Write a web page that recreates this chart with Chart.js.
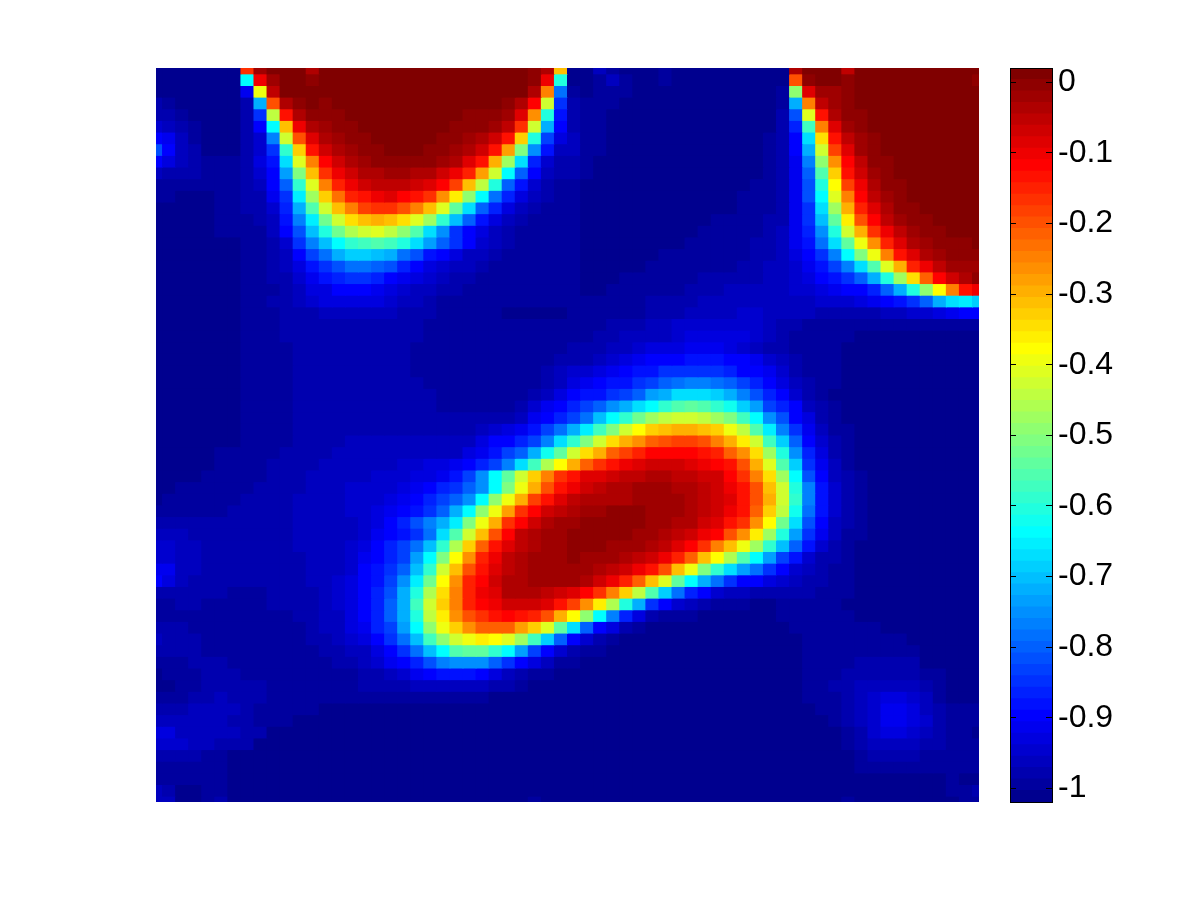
<!DOCTYPE html>
<html>
<head>
<meta charset="utf-8">
<title>Heatmap</title>
<script src="https://cdn.jsdelivr.net/npm/chart.js@4"></script>
<style>
html,body{margin:0;padding:0;background:#fff;width:1200px;height:900px;overflow:hidden}
canvas{position:absolute;display:block}
</style>
</head>
<body>
<canvas id="plot" width="823" height="734" style="left:156px;top:68px;width:823px;height:734px"></canvas>
<canvas id="bar" width="180" height="750" style="left:1000px;top:60px;width:180px;height:750px"></canvas>
<script>
const colorLimits = [-1.0194, 0.0203];
const colorbarTicks = [0,-0.1,-0.2,-0.3,-0.4,-0.5,-0.6,-0.7,-0.8,-0.9,-1];
// colour level (0-63) of every cell, row by row from the top
const heatLevels = [
[0,0,0,0,0,0,0,52, 61,63,63,63,60,63,63,63, 63,63,63,63,63,63,63,63, 63,63,63,63,63,62,60,43, 0,0,3,1,0,0,0,1, 0,0,0,0,0,0,0,0, 0,60,63,63,63,59,63,63, 63,63,63,63,63,63,63,63],
[0,0,0,0,0,0,0,23, 56,61,63,63,62,63,63,63, 63,63,63,63,63,63,63,63, 63,63,63,63,63,62,56,25, 0,0,1,3,1,0,0,1, 0,0,0,0,0,0,0,0, 0,50,62,63,63,62,63,63, 63,63,63,63,63,63,63,62],
[0,0,0,0,0,0,0,6, 38,59,63,63,63,63,63,63, 63,63,63,63,63,63,63,63, 63,63,63,63,63,60,47,14, 1,0,1,1,1,0,0,0, 0,0,0,0,0,0,0,0, 1,32,57,61,61,62,63,63, 63,63,63,63,63,63,63,63],
[2,1,0,0,0,0,0,2, 18,50,60,62,63,62,63,63, 63,63,63,63,63,63,63,63, 63,63,63,62,60,55,36,10, 2,1,1,1,0,0,0,0, 0,0,0,0,0,0,0,0, 1,18,47,59,61,62,63,63, 63,63,63,63,63,63,63,63],
[2,2,1,0,0,0,0,2, 10,35,54,60,62,62,62,63, 63,63,63,63,63,63,63,63, 62,62,62,61,57,46,25,8, 2,1,1,0,0,0,0,0, 0,0,0,0,0,0,0,0, 2,12,37,54,60,62,62,63, 63,63,63,63,63,63,63,63],
[4,3,2,1,0,0,0,2, 7,23,43,56,60,61,62,62, 63,63,63,63,63,63,63,62, 62,62,61,59,52,36,18,7, 2,1,1,0,0,0,0,0, 0,0,0,0,0,0,0,0, 2,9,27,47,57,61,62,63, 63,63,63,63,63,63,63,63],
[7,6,3,1,0,0,0,2, 4,15,36,50,57,60,61,62, 62,63,63,63,63,63,62,62, 61,60,58,54,42,25,11,5, 3,1,1,0,0,0,0,0, 0,0,0,0,0,0,0,1, 2,7,21,41,54,59,61,62, 63,63,63,63,63,63,63,63],
[12,7,3,2,0,0,0,2, 4,10,26,42,54,58,60,61, 62,62,63,63,63,62,62,61, 60,58,54,45,31,16,8,3, 3,1,1,0,0,0,0,0, 0,0,0,0,0,0,0,1, 2,7,18,36,51,57,61,62, 63,63,63,63,63,63,63,63],
[7,5,3,2,1,1,1,2, 5,8,21,37,47,55,58,60, 61,62,62,62,62,62,61,60, 57,54,44,33,21,9,4,2, 2,1,0,0,0,0,0,0, 0,0,0,0,0,0,0,1, 2,6,15,32,46,55,59,62, 62,63,63,63,63,63,63,63],
[3,2,2,2,1,1,1,2, 4,7,17,31,43,52,56,58, 60,60,61,61,60,60,58,56, 53,45,36,23,13,7,3,2, 2,1,0,0,0,0,0,0, 0,0,0,0,0,0,0,1, 2,6,13,28,42,54,58,61, 62,63,63,63,63,63,63,63],
[1,1,1,1,1,1,1,2, 3,7,13,26,37,47,53,56, 58,59,59,59,58,57,55,51, 43,35,25,13,8,4,2,1, 1,0,0,0,0,0,0,0, 0,0,0,0,0,0,1,1, 2,6,12,25,39,51,56,60, 62,62,63,63,63,63,63,63],
[1,1,0,0,0,1,1,2, 2,6,10,22,33,42,48,53, 54,56,57,55,54,52,46,40, 32,23,14,9,5,3,2,1, 1,0,0,0,0,0,0,0, 0,0,0,0,0,1,1,1, 2,6,12,23,37,47,55,59, 61,62,63,63,63,63,63,63],
[0,0,0,0,0,1,1,2, 2,4,9,18,28,36,43,47, 51,52,52,50,47,43,37,29, 21,13,9,5,3,2,1,1, 1,0,0,0,0,0,0,0, 0,0,0,0,0,1,1,1, 2,6,10,21,33,44,53,57, 60,62,62,63,63,63,63,63],
[0,0,0,0,0,1,1,1, 2,3,8,15,22,30,36,41, 43,44,43,41,37,33,26,19, 13,8,5,3,2,1,1,1, 1,0,0,0,0,0,0,0, 0,0,0,1,1,1,1,2, 2,6,10,19,29,40,50,55, 59,61,62,62,63,63,63,63],
[0,0,0,0,0,1,1,1, 1,3,7,12,19,25,30,34, 36,37,35,32,28,21,16,10, 7,5,3,2,1,1,1,1, 1,0,0,0,0,0,0,0, 0,0,1,1,1,1,1,2, 3,6,9,16,25,36,44,52, 56,59,61,62,62,63,63,63],
[0,0,0,0,0,0,0,1, 1,2,4,10,15,19,23,26, 27,28,27,25,21,17,13,10, 7,4,3,2,1,1,1,1, 1,0,0,0,0,0,0,0, 0,1,1,1,1,1,2,2, 3,6,8,14,21,29,38,46, 53,57,60,61,62,62,62,63],
[0,0,0,0,0,0,0,1, 1,2,3,7,11,14,18,20, 20,19,18,14,12,8,7,5, 3,3,2,1,1,1,1,1, 1,0,0,0,0,0,0,1, 1,1,1,1,1,1,2,2, 3,5,7,10,15,23,31,38, 47,54,57,60,61,62,62,62],
[0,0,0,0,0,0,0,1, 1,2,3,5,8,10,12,14, 14,13,12,9,7,5,4,3, 3,2,1,1,1,1,1,1, 1,0,0,0,0,0,1,1, 1,1,1,1,1,2,2,3, 3,4,6,8,11,15,21,28, 37,44,53,56,59,61,61,61],
[0,0,0,0,0,0,0,1, 1,2,2,4,6,8,9,10, 10,9,7,6,5,4,3,2, 2,1,1,1,1,1,1,1, 1,0,0,0,1,1,1,1, 1,1,2,2,2,2,2,3, 3,4,5,7,8,10,13,18, 25,33,41,49,55,58,60,62],
[0,0,0,0,0,0,0,1, 1,1,2,3,5,5,7,7, 7,6,5,4,3,3,2,2, 1,1,1,1,1,1,1,1, 1,0,0,1,1,1,1,1, 1,2,2,2,3,3,3,3, 3,4,4,5,6,7,7,9, 13,18,25,32,39,47,54,56],
[0,0,0,0,0,0,0,1, 1,2,2,3,4,5,5,5, 5,5,4,3,3,2,1,1, 1,1,1,1,1,1,1,1, 1,1,1,1,1,1,2,2, 2,2,3,3,3,3,3,3, 3,3,3,4,4,4,5,6, 7,8,10,13,18,21,22,20],
[0,0,0,0,0,0,0,1, 1,1,2,2,2,3,3,3, 3,3,3,2,2,2,1,1, 1,1,1,0,0,0,0,0, 1,1,1,1,1,1,2,2, 2,3,3,3,3,4,4,3, 3,3,3,2,2,2,2,2, 3,3,4,4,5,6,7,7],
[0,0,0,0,0,0,0,1, 1,1,2,2,2,2,2,2, 2,2,2,2,2,1,1,1, 1,1,1,1,1,1,1,1, 1,1,1,2,2,2,3,3, 4,4,4,4,4,4,4,3, 2,2,1,1,1,1,1,1, 1,1,1,1,1,1,1,1],
[0,0,0,0,0,0,0,1, 1,1,2,2,2,2,2,2, 2,2,2,2,2,1,1,1, 1,1,1,1,1,1,1,1, 1,1,2,2,3,3,3,3, 4,5,5,5,5,5,4,3, 2,1,1,1,1,1,0,0, 0,0,0,0,0,0,0,0],
[0,0,0,0,0,0,0,1, 1,1,1,2,2,2,2,2, 2,2,2,2,1,1,1,1, 1,1,1,1,1,1,1,1, 2,2,2,3,3,4,5,5, 5,6,6,6,5,4,3,2, 2,1,1,1,1,0,0,0, 0,0,0,0,0,0,0,0],
[0,0,0,0,0,0,0,1, 1,1,1,2,2,2,2,2, 2,2,2,2,1,1,1,1, 1,1,1,1,1,1,1,2, 2,2,3,4,5,6,7,7, 7,8,8,8,7,7,6,4, 3,2,1,1,1,0,0,0, 0,0,0,0,0,0,0,0],
[0,0,0,0,0,0,0,1, 1,1,1,2,2,2,2,2, 2,2,2,2,1,1,1,1, 1,1,1,1,1,1,2,3, 4,4,5,6,7,8,8,10, 10,10,10,10,9,7,7,6, 4,2,1,1,1,0,0,0, 0,0,0,0,0,0,0,0],
[0,0,0,0,0,0,0,1, 1,1,1,2,2,2,2,2, 2,2,2,2,2,1,1,1, 1,1,1,1,1,1,2,3, 5,6,7,8,8,10,11,13, 14,15,15,14,13,11,9,7, 5,3,2,1,1,0,0,0, 0,0,0,0,0,0,0,0],
[0,0,0,0,0,0,0,1, 1,1,1,2,2,2,2,2, 2,2,2,2,2,2,1,1, 1,1,1,1,1,2,3,5, 7,8,8,10,11,13,17,18, 21,21,21,20,18,15,12,9, 7,4,2,1,0,0,0,0, 0,0,0,0,0,0,0,0],
[0,0,0,0,0,0,0,1, 1,1,1,2,2,2,2,2, 2,2,2,2,2,2,1,1, 1,1,1,1,2,4,6,7, 9,11,13,16,18,21,23,26, 28,29,28,26,24,20,17,11, 9,7,3,2,1,0,0,0, 0,0,0,0,0,0,0,0],
[0,0,0,0,0,0,0,1, 1,1,1,2,2,2,2,2, 2,2,2,2,2,2,2,2, 2,2,2,2,3,6,7,9, 11,14,19,23,26,30,33,35, 36,36,35,33,31,27,23,16, 12,7,5,2,1,0,0,0, 0,0,0,0,0,0,0,0],
[0,0,0,0,0,0,0,1, 1,1,1,2,2,2,2,2, 2,2,2,2,2,2,2,2, 2,3,4,5,6,8,11,14, 18,22,27,31,36,39,42,43, 44,44,43,42,38,35,28,22, 15,10,6,3,1,1,0,0, 0,0,0,0,0,0,0,0],
[0,0,0,0,0,0,0,1, 1,1,1,2,2,2,2,3, 3,3,3,3,3,3,3,3, 3,5,7,7,9,11,15,21, 26,31,36,41,44,46,49,50, 51,51,50,47,44,40,36,27, 20,13,7,4,2,1,0,0, 0,0,0,0,0,0,0,0],
[0,0,0,0,0,1,1,1, 1,1,2,2,2,2,3,3, 3,3,3,3,3,3,3,3, 5,6,8,11,13,18,24,29, 36,41,44,49,51,53,55,55, 55,55,54,53,49,46,41,33, 25,16,9,5,2,1,0,0, 0,0,0,0,0,0,0,0],
[0,0,0,0,0,1,1,1, 1,2,2,2,2,3,3,3, 3,3,3,4,4,5,5,6, 7,9,11,15,21,27,34,39, 44,49,52,54,56,57,58,58, 58,57,56,55,54,50,44,37, 28,20,10,6,3,1,0,0, 0,0,0,0,0,0,0,0],
[0,0,0,0,1,1,1,1, 1,2,2,2,3,3,3,3, 3,4,4,4,5,5,6,8, 11,16,23,29,36,42,47,52, 54,57,57,58,59,59,60,60, 59,59,58,58,55,52,47,41, 33,23,12,7,3,2,1,0, 0,0,0,0,0,0,0,0],
[0,0,1,1,1,1,1,1, 2,2,2,2,3,3,3,4, 4,4,4,5,6,7,9,10, 13,16,23,31,38,44,50,54, 56,58,59,60,60,61,61,61, 60,60,59,58,56,54,50,43, 36,25,15,8,4,2,1,0, 0,0,0,0,0,0,0,0],
[0,1,1,1,1,1,1,2, 2,2,2,3,3,3,3,4, 4,4,5,6,7,9,11,13, 16,23,32,38,44,51,54,57, 59,60,60,60,60,61,61,61, 61,60,59,58,57,54,50,44, 36,26,15,8,4,2,1,0, 0,0,0,0,0,0,0,0],
[1,1,1,1,1,1,2,2, 2,2,2,3,3,3,3,4, 4,5,6,7,8,10,13,18, 23,32,38,45,52,55,58,59, 60,61,61,62,62,62,61,61, 61,60,59,58,56,54,49,42, 35,24,14,8,4,2,1,0, 0,0,0,0,0,0,0,0],
[2,2,2,2,2,2,2,2, 2,2,2,3,3,3,3,3, 4,5,7,9,12,15,18,22, 31,38,44,52,55,58,60,61, 61,62,62,62,62,62,61,61, 60,60,58,57,54,52,46,39, 30,21,12,7,3,2,1,0, 0,0,0,0,0,0,0,0],
[3,3,3,2,2,2,2,2, 2,2,2,3,3,3,3,3, 4,6,7,8,10,14,21,28, 36,43,50,55,59,60,61,61, 62,62,62,62,62,61,61,60, 59,58,56,55,50,46,40,33, 25,17,10,6,3,1,1,0, 0,0,0,0,0,0,0,0],
[4,4,3,3,2,2,2,2, 2,2,2,3,3,3,3,4, 5,7,9,11,14,19,26,34, 42,49,54,57,59,60,61,61, 62,62,62,61,61,61,60,59, 57,55,52,47,43,38,33,26, 19,13,8,4,2,1,0,0, 0,0,0,0,0,0,0,0],
[4,4,3,3,2,2,2,2, 2,2,2,2,3,3,3,4, 6,7,9,11,17,23,31,39, 46,53,56,59,60,61,61,61, 62,61,61,61,60,59,58,56, 53,49,43,39,34,28,23,17, 11,8,4,2,2,1,0,0, 0,0,0,0,0,0,0,0],
[6,6,3,3,2,2,2,2, 2,2,2,2,3,3,3,4, 7,8,10,13,19,26,36,43, 50,54,57,59,60,61,61,61, 61,61,60,59,58,56,54,50, 43,38,31,26,21,17,14,10, 7,4,3,2,1,1,0,0, 0,0,0,0,0,0,0,0],
[7,5,3,2,2,2,2,2, 2,2,2,2,3,3,4,5, 7,8,11,16,22,30,39,46, 53,55,58,60,60,61,61,61, 61,60,58,56,53,49,43,37, 29,23,18,14,10,7,7,5, 4,3,2,2,1,1,0,0, 0,0,0,0,0,0,0,0],
[2,2,2,2,2,2,1,1, 1,2,2,2,2,3,4,5, 7,9,12,18,25,34,41,47, 53,56,57,60,60,60,59,58, 57,55,52,47,42,35,28,20, 14,9,7,4,3,3,2,2, 2,2,2,1,1,1,0,0, 0,0,0,0,0,0,0,0],
[1,1,2,2,1,1,1,1, 1,2,2,2,2,3,4,5, 7,9,13,18,27,36,42,47, 53,55,56,58,58,58,57,54, 51,46,40,34,25,18,10,7, 4,3,2,1,1,1,0,0, 1,1,1,1,1,0,0,0, 0,0,0,0,0,0,0,0],
[1,1,1,1,1,1,1,1, 1,1,1,2,2,3,3,5, 7,9,13,18,25,35,40,46, 50,52,54,55,54,53,50,44, 39,32,23,15,9,5,2,1, 1,1,0,0,0,0,0,0, 1,1,1,1,1,1,0,0, 0,0,0,0,0,0,0,0],
[2,2,2,1,1,1,1,1, 1,1,1,1,2,3,3,5, 6,9,11,17,23,32,38,42, 46,49,49,49,45,42,37,29, 21,13,7,5,2,1,0,0, 0,0,0,0,0,0,0,0, 0,1,1,1,1,1,1,1, 0,0,0,0,0,0,0,0],
[3,2,2,2,1,1,1,1, 1,1,1,1,2,2,3,4, 5,7,10,14,19,27,32,36, 38,40,39,37,33,27,20,13, 7,4,2,1,0,0,0,0, 0,0,0,0,0,0,0,0, 0,0,1,1,1,1,1,1, 1,1,0,0,0,0,0,0],
[2,2,2,2,1,1,1,1, 1,1,1,1,1,2,2,3, 3,5,7,10,14,19,23,28, 29,29,26,23,17,11,7,4, 2,1,1,0,0,0,0,0, 0,0,0,0,0,0,0,0, 0,0,1,1,1,1,1,1, 1,1,1,0,0,0,0,0],
[1,1,1,2,2,2,1,1, 1,1,1,1,1,1,2,2, 3,4,6,7,9,12,15,16, 16,16,13,10,7,5,3,1, 1,0,0,0,0,0,0,0, 0,0,0,0,0,0,0,0, 0,0,1,1,1,1,2,2, 2,2,2,0,0,0,0,0],
[0,1,1,1,2,2,2,1, 1,1,1,1,1,1,1,1, 2,2,3,4,6,7,8,8, 8,7,5,3,2,1,1,0, 0,0,0,0,0,0,0,0, 0,0,0,0,0,0,0,0, 0,0,1,1,1,2,2,2, 2,2,2,1,1,0,0,0],
[0,0,1,1,2,2,2,2, 2,1,1,1,1,1,1,1, 2,2,2,2,3,3,3,3, 3,3,2,2,1,0,0,0, 0,0,0,0,0,0,0,0, 0,0,0,0,0,0,0,0, 0,0,1,1,2,2,3,3, 3,3,3,2,1,0,0,0],
[1,1,1,2,2,3,2,2, 2,1,1,1,1,1,1,1, 1,1,1,1,1,1,1,1, 1,1,0,0,0,0,0,0, 0,0,0,0,0,0,0,0, 0,0,0,0,0,0,0,0, 0,0,1,1,1,2,3,4, 5,5,4,3,1,0,0,0],
[2,2,2,3,3,3,3,2, 1,1,1,1,1,0,0,0, 0,0,0,0,0,0,0,0, 0,0,0,0,0,0,0,0, 0,0,0,0,0,0,0,0, 0,0,0,0,0,0,0,0, 0,0,0,1,1,2,3,4, 6,6,5,3,2,1,1,1],
[3,3,3,3,3,3,2,2, 1,1,1,0,0,0,0,0, 0,0,0,0,0,0,0,0, 0,0,0,0,0,0,0,0, 0,0,0,0,0,0,0,0, 0,0,0,0,0,0,0,0, 0,0,0,0,1,2,3,4, 6,6,5,4,2,1,1,1],
[5,5,3,3,3,3,3,2, 2,0,0,0,0,0,0,0, 0,0,0,0,0,0,0,0, 0,0,0,0,0,0,0,0, 0,0,0,0,0,0,0,0, 0,0,0,0,0,0,0,0, 0,0,0,0,0,1,2,4, 5,5,4,3,2,1,1,0],
[4,4,4,3,3,2,2,2, 0,0,0,0,0,0,0,0, 0,0,0,0,0,0,0,0, 0,0,0,0,0,0,0,0, 0,0,0,0,0,0,0,0, 0,0,0,0,0,0,0,0, 0,0,0,0,0,1,2,3, 3,3,3,2,2,1,1,1],
[2,2,2,2,1,1,0,0, 0,0,0,0,0,0,0,0, 0,0,0,0,0,0,0,0, 0,0,0,0,0,0,0,0, 0,0,0,0,0,0,0,0, 0,0,0,0,0,0,0,0, 0,0,0,0,0,0,1,2, 2,2,2,1,1,1,1,1],
[1,1,1,1,1,1,0,0, 0,0,0,0,0,0,0,0, 0,0,0,0,0,0,0,0, 0,0,0,0,0,0,0,0, 0,0,0,0,0,0,0,0, 0,0,0,0,0,0,0,0, 0,0,0,0,0,0,1,1, 1,1,1,1,1,1,1,1],
[1,1,1,1,1,1,0,0, 0,0,0,0,0,0,0,0, 0,0,0,0,0,0,0,0, 0,0,0,0,0,0,0,0, 0,0,0,0,0,0,0,0, 0,0,0,0,0,0,0,0, 0,0,0,0,0,0,0,0, 0,0,0,0,0,1,0,0],
[3,2,0,0,1,1,0,0, 0,0,0,0,0,0,0,0, 0,0,0,0,0,0,0,0, 0,0,0,0,0,0,0,0, 0,0,0,0,0,0,0,0, 0,0,0,0,0,0,0,0, 0,0,0,0,0,0,0,0, 0,0,0,0,0,1,1,2],
[3,3,0,0,1,2,0,0, 0,0,0,0,0,0,0,0, 0,0,0,0,0,0,0,0, 0,0,0,0,0,1,0,0, 0,0,0,0,0,0,0,0, 0,0,0,0,0,0,0,0, 0,0,0,0,0,1,0,0, 0,0,0,0,0,0,1,1]
];

const LEVELS = 64;
function clamp01(v){return Math.max(0,Math.min(1,v));}
function jet(i){
  const x=(i+1)/LEVELS;
  const r=clamp01(Math.min(4*x-1.5,4.5-4*x));
  const g=clamp01(Math.min(4*x-0.5,3.5-4*x));
  const b=clamp01(Math.min(4*x+0.5,2.5-4*x));
  return `rgb(${Math.round(r*255)},${Math.round(g*255)},${Math.round(b*255)})`;
}

const plotDatasets = heatLevels.map((row,r)=>({
  data: row.map((lv,c)=>({x:c+1,y:[r+0.5,r+1.5]})),
  backgroundColor: row.map(jet),
  borderWidth:0,
  inflateAmount:0.5,
  grouped:false,
  barPercentage:1,
  categoryPercentage:1
}));

new Chart(document.getElementById('plot'),{
  type:'bar',
  data:{datasets:plotDatasets},
  options:{
    responsive:false,animation:false,events:[],
    layout:{padding:0},
    plugins:{legend:{display:false},tooltip:{enabled:false},title:{display:false}},
    scales:{
      x:{type:'linear',min:1,max:64,offset:false,display:false},
      y:{type:'linear',min:1,max:64,reverse:true,display:false}
    }
  }
});

const span=(colorLimits[1]-colorLimits[0])/LEVELS;
const barDatasets=[];
for(let i=0;i<LEVELS;i++){
  barDatasets.push({
    data:[[colorLimits[0]+i*span,colorLimits[0]+(i+1)*span]],
    backgroundColor:jet(i),
    borderWidth:0,
    inflateAmount:0.5,
    grouped:false,
    barPercentage:1,
    categoryPercentage:1
  });
}
const frame={id:'frame',afterDraw(c){
  const a=c.chartArea,x=c.ctx;
  x.save();x.strokeStyle='#000';x.lineWidth=1;
  x.strokeRect(Math.round(a.left)+0.5,Math.round(a.top)+0.5,Math.round(a.width),Math.round(a.height));
  x.restore();
}};
new Chart(document.getElementById('bar'),{
  type:'bar',
  data:{labels:[''],datasets:barDatasets},
  plugins:[frame],
  options:{
    responsive:false,animation:false,events:[],
    layout:{padding:{left:10,top:8,bottom:8,right:0}},
    plugins:{legend:{display:false},tooltip:{enabled:false},title:{display:false}},
    scales:{
      x:{display:false},
      y:{
        type:'linear',position:'right',
        min:colorLimits[0],max:colorLimits[1],
        afterBuildTicks(s){s.ticks=colorbarTicks.map(v=>({value:v}));},
        afterFit(s){s.width=128;s.paddingTop=0;s.paddingBottom=0;},
        border:{display:false,dash:[6,30,6]},
        grid:{color:'#000',lineWidth:1,drawTicks:false,z:1},
        ticks:{
          autoSkip:false,padding:6,color:'#000',
          font:{family:'"Liberation Sans",Arial,sans-serif',size:32},
          callback:v=>String(v)
        }
      }
    }
  }
});
</script>
</body>
</html>
